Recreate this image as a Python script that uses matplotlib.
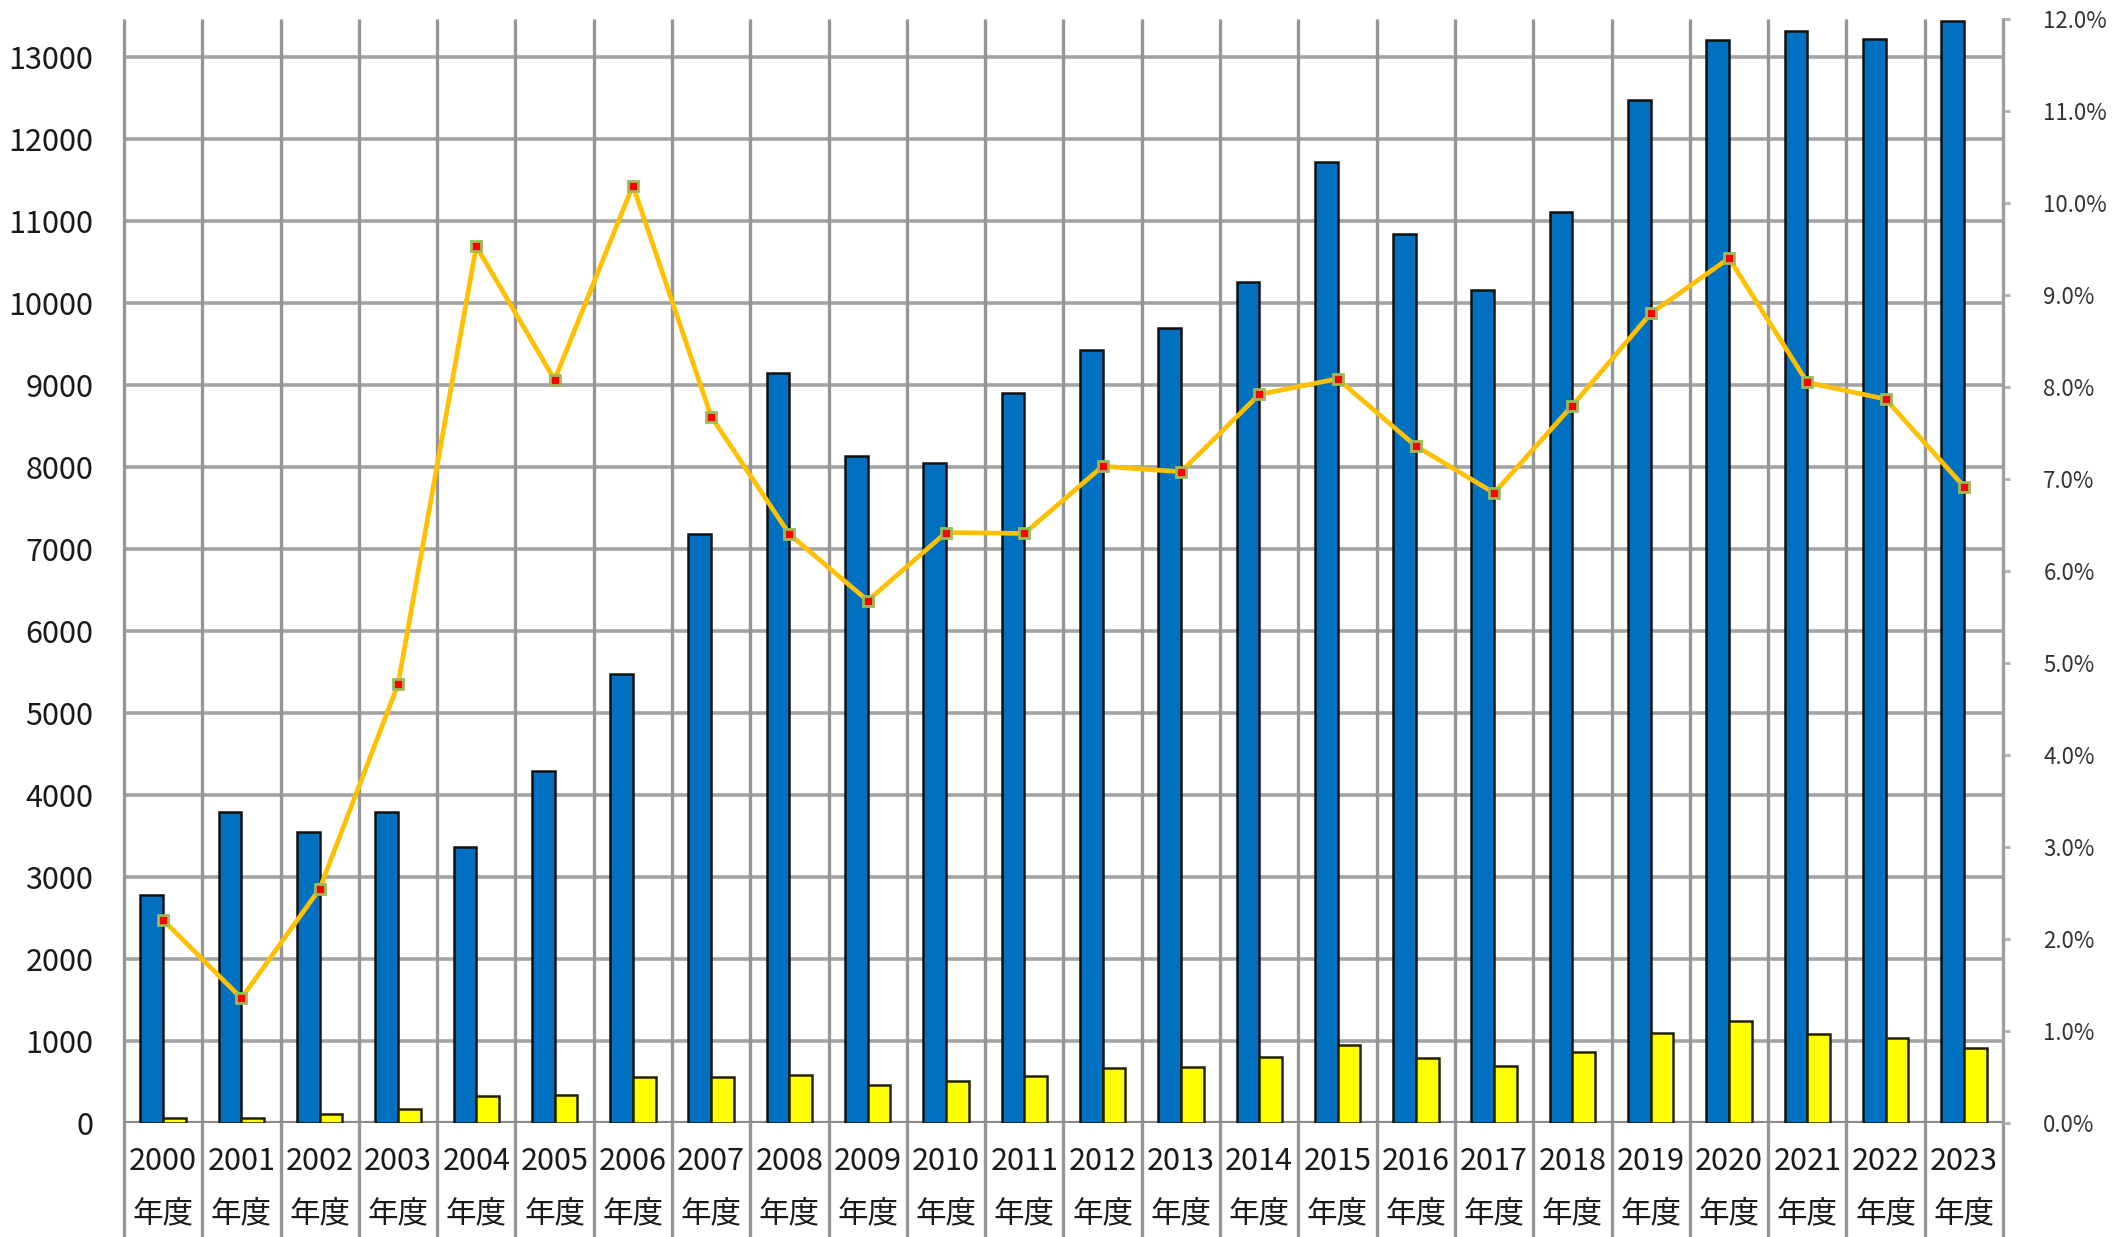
import numpy as np
import matplotlib.pyplot as plt
from matplotlib.ticker import FuncFormatter

plt.rcParams['font.family'] = ['Noto Sans CJK JP', 'DejaVu Sans']

years = [str(y) for y in range(2000, 2024)]
labels = [y + '\n年度' for y in years]

# blue bars (left axis)
blue_vals = [2780, 3800, 3550, 3800, 3370, 4290, 5480, 7180, 9150, 8130, 8050, 8900,
             9420, 9690, 10260, 11720, 10840, 10160, 11110, 12470, 13200, 13310, 13220, 13430]
# yellow bars (left axis)
yellow_vals = [70, 70, 120, 180, 330, 350, 570, 560, 590, 470, 520, 580,
               670, 690, 810, 950, 800, 700, 870, 1100, 1250, 1090, 1040, 920]
# line (right axis, ratio)
ratio = [0.0221, 0.0136, 0.0255, 0.0477, 0.0953, 0.0808, 0.1019, 0.0768, 0.0640, 0.0568,
         0.0642, 0.0641, 0.0714, 0.0708, 0.0792, 0.0809, 0.0736, 0.0685, 0.0780, 0.0880,
         0.0940, 0.0805, 0.0787, 0.0692]

left_ticks = list(range(0, 14000, 1000))
right_ticks = [i / 100 for i in range(0, 13)]

fig = plt.figure(figsize=(21.12, 12.37), dpi=100)
ax = fig.add_axes([0.0587, 0.0918, 0.8897, 0.8929])

x = np.arange(len(years))
w = 0.29
ax.bar(x - w / 2, blue_vals, w, color='#0070C0', edgecolor='#111111', linewidth=1.8, zorder=3)
ax.bar(x + w / 2, yellow_vals, w, color='#FFFF00', edgecolor='#222200', linewidth=1.8, zorder=3)

ax.set_xlim(-0.5, len(years) - 0.5)
ax.set_ylim(0, 13460)
ax.set_yticks(left_ticks)
ax.set_xticks(x)
ax.set_xticklabels(labels, fontsize=22, linespacing=1.9, color='#1a1a1a')
ax.tick_params(axis='x', length=0, pad=16)
ax.tick_params(axis='y', length=0, pad=22, labelsize=22, labelcolor='#1a1a1a')

ax.yaxis.grid(True, color='#a3a3a3', linewidth=2.6, zorder=0)
ax.set_axisbelow(True)
for s in ax.spines.values():
    s.set_visible(False)
ax.axhline(0, color='#8c8c8c', linewidth=3, zorder=2)

# column dividers, running down through the label cells
bounds = np.arange(len(years) + 1) - 0.5
ax.vlines(bounds, -0.11, 1.0, transform=ax.get_xaxis_transform(), colors='#969696',
          linewidth=2.4, clip_on=False, zorder=1)

ax2 = ax.twinx()
ax2.plot(x, ratio, color='#FFC000', linewidth=3.4, marker='s', markersize=7.5,
         markerfacecolor='#FF0000', markeredgecolor='#9BBB59', markeredgewidth=2, zorder=5)
ax2.set_ylim(0, 0.12)
ax2.set_yticks(right_ticks)
ax2.yaxis.set_major_formatter(FuncFormatter(lambda v, p: '{:.1f}%'.format(v * 100)))
ax2.tick_params(axis='y', length=5, width=2, color='#b0b0b0', pad=24, labelsize=16,
                labelcolor='#333333')
for k, s in ax2.spines.items():
    s.set_visible(k == 'right')
ax2.spines['right'].set_color('#a0a0a0')
ax2.spines['right'].set_linewidth(2)

fig.savefig('out.png', dpi=100)
